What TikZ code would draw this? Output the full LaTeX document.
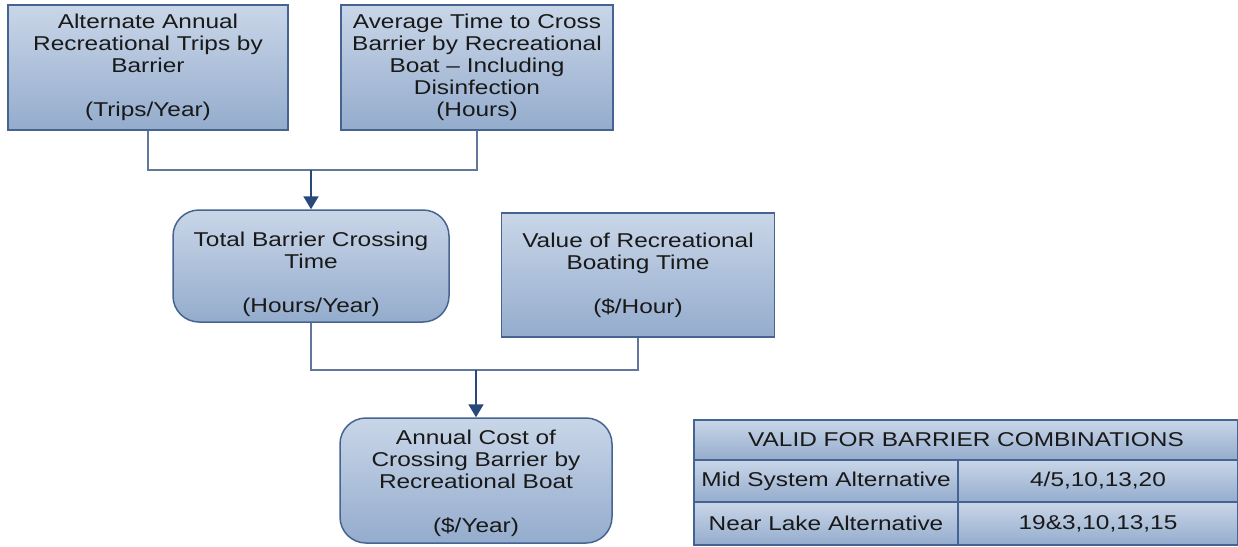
\documentclass[tikz,border=0pt]{standalone}
\usepackage{fontspec}
\setmainfont{Liberation Sans}[FakeStretch=1.22]
\usetikzlibrary{arrows.meta}
\definecolor{boxtop}{RGB}{201,214,232}
\definecolor{boxbot}{RGB}{148,172,205}
\definecolor{boxline}{RGB}{70,100,145}
\definecolor{connline}{RGB}{95,120,155}
\definecolor{tipcol}{RGB}{40,72,122}
\definecolor{txt}{RGB}{25,25,25}
\tikzset{
  box/.style={rectangle, draw=boxline, line width=1.5pt, top color=boxtop, bottom color=boxbot,
    inner sep=0pt, align=center, text=txt, font=\fontsize{20}{22}\selectfont},
  rbox/.style={box, rounded corners=26pt},
  cell/.style={rectangle, draw=boxline, line width=1.5pt, top color=boxtop, bottom color=boxbot,
    inner sep=0pt, align=center, text=txt, font=\fontsize{20}{22}\selectfont},
  conn/.style={draw=connline, line width=2pt},
  arrowconn/.style={conn, draw=tipcol, -{Triangle[width=15pt,length=13pt]}, shorten >=0pt}
}
\begin{document}
\begin{tikzpicture}[x=1pt,y=-1pt]
\useasboundingbox (0,0) rectangle (1238,546);
\node[box, minimum width=280pt, minimum height=125pt] (b1) at (148,67.5)
  {Alternate Annual\\Recreational Trips by\\Barrier\\[22pt](Trips/Year)};
\node[box, minimum width=272pt, minimum height=125pt] (b2) at (477,67.5)
  {Average Time to Cross\\Barrier by Recreational\\Boat -- Including\\Disinfection\\(Hours)};
\node[rbox, minimum width=276pt, minimum height=112pt] (b3) at (311,266)
  {\rule{0pt}{32pt}Total Barrier Crossing\\Time\\[22pt](Hours/Year)};
\node[box, minimum width=273pt, minimum height=124pt] (b4) at (638,275)
  {Value of Recreational\\Boating Time\\[22pt](\$/Hour)};
\node[rbox, minimum width=272pt, minimum height=125pt] (b5) at (476,480.5)
  {\rule{0pt}{20pt}Annual Cost of\\Crossing Barrier by\\Recreational Boat\\[22pt](\$/Year)};
\coordinate (j1) at (311,170);
\coordinate (j2) at (476,370);
\draw[conn] (b1.south) |- (j1) -| (b2.south);
\draw[arrowconn] (j1) -- (b3.north);
\draw[conn] (b3.south) |- (j2) -| (b4.south);
\draw[arrowconn] (j2) -- (b5.north);
% table
\node[cell, minimum width=544pt, minimum height=40pt] (th) at (966,440) {VALID FOR BARRIER COMBINATIONS};
\node[cell, minimum width=264pt, minimum height=42pt] (c11) at (826,481) {Mid System Alternative};
\node[cell, minimum width=280pt, minimum height=42pt] (c12) at (1098,481) {4/5,10,13,20};
\node[cell, minimum width=264pt, minimum height=43pt] (c21) at (826,523.5) {Near Lake Alternative};
\node[cell, minimum width=280pt, minimum height=43pt] (c22) at (1098,523.5) {19\&3,10,13,15};
\end{tikzpicture}
\end{document}
